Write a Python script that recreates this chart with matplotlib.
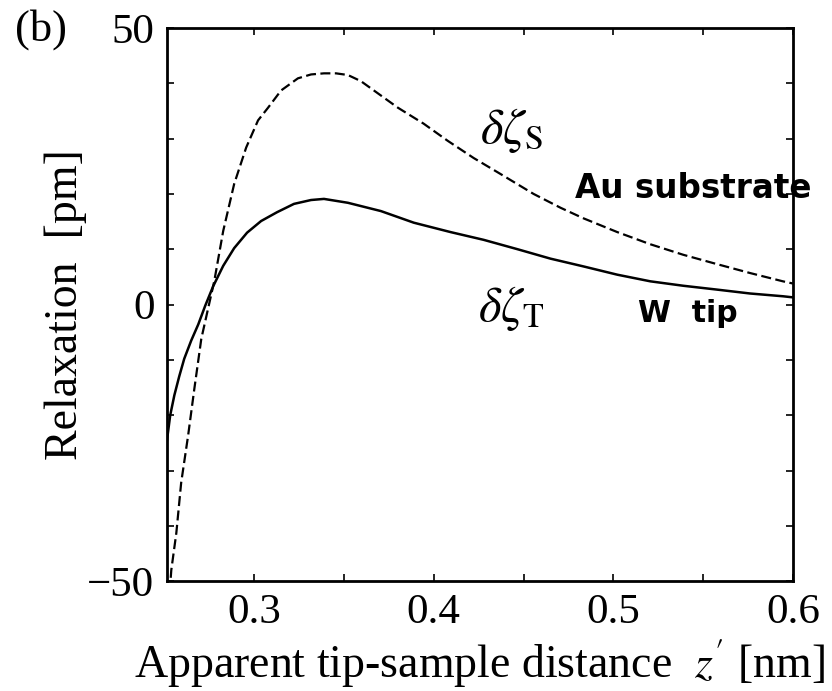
"""
Relaxation of tip and substrate vs apparent tip-sample distance, panel (b).
"""

import matplotlib

matplotlib.use("Agg")
import matplotlib.pyplot as plt
from matplotlib.ticker import MultipleLocator

# substrate relaxation (dashed)
z_sub = [0.2530, 0.2539, 0.2567, 0.2594, 0.2633, 0.2667, 0.2706, 0.2744,
         0.2778, 0.2828, 0.2889, 0.2956, 0.3022, 0.3078, 0.3150, 0.3244,
         0.3317, 0.3389, 0.3456, 0.3522, 0.3594, 0.3667, 0.3800, 0.3944,
         0.4078, 0.4222, 0.4372, 0.4556, 0.4706, 0.4833, 0.5022, 0.5206,
         0.5389, 0.5578, 0.5761, 0.5944, 0.6000]
d_sub = [-52.0, -48.0, -41.3, -32.2, -23.6, -15.3, -6.2, -0.7,
         4.2, 13.3, 21.8, 28.4, 33.3, 35.6, 38.7, 40.9,
         41.6, 41.8, 41.8, 41.5, 40.4, 38.7, 35.6, 32.7,
         29.6, 26.5, 23.6, 20.0, 17.5, 15.6, 13.1, 10.9,
         9.0, 7.3, 5.7, 4.2, 3.8]

# tip relaxation (solid)
z_tip = [0.2511, 0.2533, 0.2556, 0.2583, 0.2611, 0.2650, 0.2689, 0.2728,
         0.2772, 0.2828, 0.2889, 0.2961, 0.3039, 0.3128, 0.3222, 0.3317,
         0.3389, 0.3522, 0.3706, 0.3889, 0.4094, 0.4278, 0.4467, 0.4650,
         0.4833, 0.5022, 0.5206, 0.5389, 0.5578, 0.5761, 0.5944, 0.6000]
d_tip = [-25.5, -20.0, -16.4, -13.0, -9.8, -6.5, -3.6, -0.2,
         3.3, 7.0, 10.2, 13.0, 15.1, 16.7, 18.2, 18.9,
         19.1, 18.4, 16.9, 14.8, 13.1, 11.7, 10.0, 8.3,
         6.9, 5.4, 4.2, 3.4, 2.7, 2.0, 1.5, 1.3]

x_ticks = [0.3, 0.4, 0.5, 0.6]
y_ticks = [-50, 0, 50]


def main() -> None:
    plt.rcParams["font.family"] = ["Liberation Serif", "DejaVu Serif"]
    plt.rcParams["mathtext.fontset"] = "stix"

    fig = plt.figure(figsize=(8.32, 6.91), dpi=100)
    ax = fig.add_axes([0.2007, 0.159, 0.7524, 0.8005])

    ax.plot(z_sub, d_sub, color="black", linewidth=1.6, linestyle=(0, (4.5, 2)))
    ax.plot(z_tip, d_tip, color="black", linewidth=1.8)

    ax.set_xlim(0.2515, 0.6)
    ax.set_ylim(-50, 50)
    ax.set_xticks(x_ticks)
    ax.set_xticklabels(["0.3", "0.4", "0.5", "0.6"])
    ax.set_yticks(y_ticks)
    ax.set_yticklabels(["\u221250", "0", "50"])
    ax.xaxis.set_minor_locator(MultipleLocator(0.05))
    ax.yaxis.set_minor_locator(MultipleLocator(10))
    ax.tick_params(which="both", direction="in", top=True, right=True,
                   length=5, width=1.2, labelsize=31, pad=9)
    for spine in ax.spines.values():
        spine.set_linewidth(2.0)

    ax.set_xlabel(r"Apparent tip-sample distance  $z'$ [nm]", fontsize=33,
                  labelpad=4)
    ax.set_ylabel("Relaxation  [pm]", fontsize=33, labelpad=0)

    ax.text(0.426, 31.5, r"$\delta\zeta_{\mathrm{S}}$", fontsize=35,
            va="center", ha="left")
    ax.text(0.4244, -0.7, r"$\delta\zeta_{\mathrm{T}}$", fontsize=35,
            va="center", ha="left")
    ax.text(0.4789, 20.9, "Au substrate", fontsize=23.5, fontweight="bold",
            family="DejaVu Sans", va="center", ha="left")
    ax.text(0.5139, -1.6, "W  tip", fontsize=21.5, fontweight="bold",
            family="DejaVu Sans", va="center", ha="left")

    fig.text(0.018, 0.958, "(b)", fontsize=32, va="center", ha="left")

    fig.savefig("out.png", dpi=100)


if __name__ == "__main__":
    main()
